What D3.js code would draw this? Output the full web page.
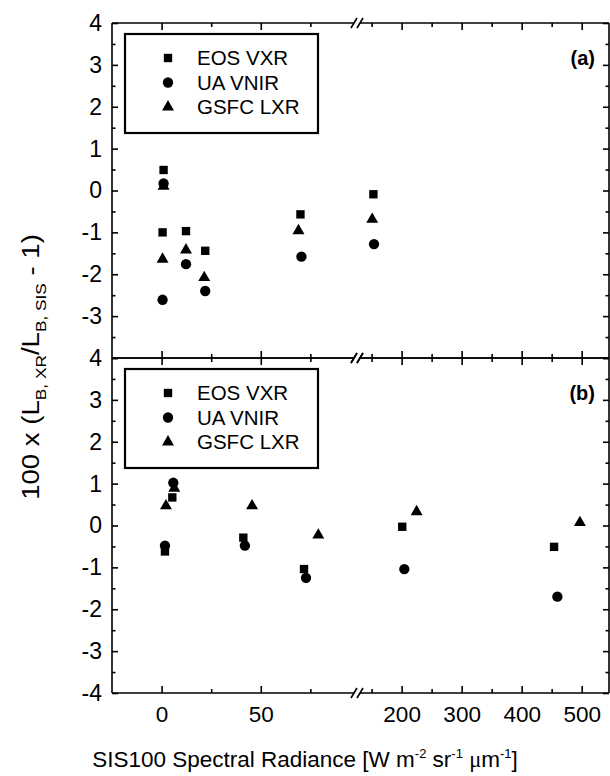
<!DOCTYPE html>
<html>
<head>
<meta charset="utf-8">
<script src="https://cdn.jsdelivr.net/npm/d3@7"></script>
<style>
  html, body { margin: 0; padding: 0; background: #fff; }
  svg { display: block; }
  text { font-family: "Liberation Sans", Arial, sans-serif; fill: #000; }
</style>
</head>
<body>
<svg id="chart" width="610" height="776"></svg>
<script>
// ---------------- data ----------------
const seriesNames = ["EOS VXR", "UA VNIR", "GSFC LXR"];
const seriesSymbols = ["square", "circle", "triangle"];
const panelLabels = ["(a)", "(b)"];

// panel (a)
const aEosX  = [1, 0.5, 12.3, 22, 70, 153];
const aEosY  = [0.49, -1.0, -0.97, -1.44, -0.57, -0.09];
const aUaX   = [1, 0.5, 12.3, 22, 70.5, 154];
const aUaY   = [0.17, -2.61, -1.76, -2.40, -1.58, -1.28];
const aGsfcX = [1, 0.5, 12.3, 21.5, 69, 151];
const aGsfcY = [0.10, -1.64, -1.42, -2.08, -0.96, -0.69];

// panel (b)
const bEosX  = [1.7, 5.4, 41.2, 71.8, 201, 454];
const bEosY  = [-0.62, 0.67, -0.29, -1.04, -0.03, -0.51];
const bUaX   = [1.7, 5.9, 42, 72.8, 204.5, 459.5];
const bUaY   = [-0.48, 1.02, -0.48, -1.25, -1.04, -1.70];
const bGsfcX = [2.2, 6.4, 45.6, 79, 225, 497];
const bGsfcY = [0.47, 0.89, 0.47, -0.23, 0.33, 0.07];

// axis ticks
const yMajor = [-4, -3, -2, -1, 0, 1, 2, 3, 4];
const yMinor = [-3.5, -2.5, -1.5, -0.5, 0.5, 1.5, 2.5, 3.5];
const yLabelsTop = ["", "-3", "-2", "-1", "0", "1", "2", "3", "4"];
const yLabelsBottom = ["-4", "-3", "-2", "-1", "0", "1", "2", "3", "4"];
const xLeftMajor = [0, 50];
const xLeftMinor = [25, 75];
const xRightMajor = [200, 300, 400, 500];
const xRightMinor = [150, 250, 350, 450];

const panels = [
  { label: panelLabels[0], series: [
      { x: aEosX, y: aEosY }, { x: aUaX, y: aUaY }, { x: aGsfcX, y: aGsfcY } ],
    yLabels: yLabelsTop, showX: false },
  { label: panelLabels[1], series: [
      { x: bEosX, y: bEosY }, { x: bUaX, y: bUaY }, { x: bGsfcX, y: bGsfcY } ],
    yLabels: yLabelsBottom, showX: true }
];

// ---------------- layout ----------------
const svg = d3.select("#chart");
const L = 112, R = 609;
const breakA = 354, breakB = 360;
const panelTops = [23, 358];
const panelH = 335;

const xL = d3.scaleLinear().domain([-25, 98]).range([L, 356]);
const xR = d3.scaleLinear().domain([134, 545.5]).range([362, R]);
const xPos = v => (v < 120 ? xL(v) : xR(v));

const symGen = {
  square: d3.symbol().type(d3.symbolSquare).size(70),
  circle: d3.symbol().type(d3.symbolCircle).size(84),
  triangle: d3.symbol().type(d3.symbolTriangle).size(62)
};

const LW = 1.6;

function styleAxis(fs) {
  return g => {
    g.select(".domain").remove();
    g.selectAll(".tick line").attr("stroke", "#000").attr("stroke-width", LW);
    g.selectAll(".tick text").attr("font-size", fs)
      .attr("font-family", '"Liberation Sans", Arial, sans-serif').attr("fill", "#000");
  };
}

panels.forEach((p, pi) => {
  const top = panelTops[pi];
  const y = d3.scaleLinear().domain([-4, 4]).range([top + panelH, top]);
  const g = svg.append("g");

  // left axis major with labels
  g.append("g").attr("transform", `translate(${L},0)`)
    .call(d3.axisLeft(y).tickValues(yMajor).tickSize(-6).tickPadding(10)
      .tickFormat((d, i) => p.yLabels[i]))
    .call(styleAxis(23));
  g.append("g").attr("transform", `translate(${L},0)`)
    .call(d3.axisLeft(y).tickValues(yMinor).tickSize(-3.5).tickFormat(""))
    .call(styleAxis(23));
  // right axis
  g.append("g").attr("transform", `translate(${R},0)`)
    .call(d3.axisRight(y).tickValues(yMajor).tickSize(-6).tickFormat(""))
    .call(styleAxis(23));
  g.append("g").attr("transform", `translate(${R},0)`)
    .call(d3.axisRight(y).tickValues(yMinor).tickSize(-3.5).tickFormat(""))
    .call(styleAxis(23));

  [[xL, xLeftMajor, xLeftMinor], [xR, xRightMajor, xRightMinor]].forEach(([sc, maj, mn]) => {
    // top axis (ticks downward)
    g.append("g").attr("transform", `translate(0,${top})`)
      .call(d3.axisTop(sc).tickValues(maj).tickSize(-7).tickFormat(""))
      .call(styleAxis(22));
    g.append("g").attr("transform", `translate(0,${top})`)
      .call(d3.axisTop(sc).tickValues(mn).tickSize(-4).tickFormat(""))
      .call(styleAxis(22));
    // bottom axis (ticks upward)
    g.append("g").attr("transform", `translate(0,${top + panelH})`)
      .call(d3.axisBottom(sc).tickValues(maj).tickSize(-7).tickPadding(13)
        .tickFormat(p.showX ? d3.format("d") : ""))
      .call(styleAxis(22.5));
    g.append("g").attr("transform", `translate(0,${top + panelH})`)
      .call(d3.axisBottom(sc).tickValues(mn).tickSize(-4).tickFormat(""))
      .call(styleAxis(22));
  });

  // frame lines
  const ln = (x1, y1, x2, y2) => g.append("line").attr("x1", x1).attr("y1", y1)
    .attr("x2", x2).attr("y2", y2).attr("stroke", "#000").attr("stroke-width", LW);
  ln(L, top, L, top + panelH);
  ln(R, top, R, top + panelH);
  [top, top + panelH].forEach(yy => {
    ln(L, yy, breakA, yy);
    ln(breakB, yy, R, yy);
    // break marks //
    ln(breakA - 3, yy + 5, breakA + 3, yy - 5);
    ln(breakB - 3, yy + 5, breakB + 3, yy - 5);
  });

  // legend
  const lg = g.append("g");
  lg.append("rect").attr("x", 125).attr("y", top + 11).attr("width", 193).attr("height", 99)
    .attr("fill", "#fff").attr("stroke", "#000").attr("stroke-width", 2.2);
  seriesNames.forEach((name, i) => {
    const yy = top + 35 + i * 24.5;
    lg.append("path").attr("d", symGen[seriesSymbols[i]]())
      .attr("transform", `translate(168,${yy})`).attr("fill", "#000");
    lg.append("text").attr("x", 197).attr("y", yy).attr("dy", "0.36em")
      .attr("font-size", 20.5).text(name);
  });

  // panel label
  g.append("text").attr("x", 595).attr("y", top + 35).attr("dy", "0.36em")
    .attr("text-anchor", "end").attr("font-size", 20).attr("font-weight", "bold")
    .text(p.label);

  // data points
  p.series.forEach((s, si) => {
    g.append("g").selectAll("path").data(s.x.map((xv, k) => [xv, s.y[k]]))
      .join("path")
      .attr("d", symGen[seriesSymbols[si]]())
      .attr("transform", d => `translate(${xPos(d[0])},${y(d[1])})`)
      .attr("fill", "#000");
  });
});

// x axis title
const xt = svg.append("text").attr("x", 305).attr("y", 767)
  .attr("text-anchor", "middle").attr("font-size", 22.5);
xt.append("tspan").text("SIS100 Spectral Radiance [W m");
xt.append("tspan").attr("dy", -9).attr("font-size", 13).text("-2");
xt.append("tspan").attr("dy", 9).text(" sr");
xt.append("tspan").attr("dy", -9).attr("font-size", 13).text("-1");
xt.append("tspan").attr("dy", 9).text(" ");
xt.append("tspan").attr("font-family", '"Liberation Serif", serif').text("\u03BC");
xt.append("tspan").text("m");
xt.append("tspan").attr("dy", -9).attr("font-size", 13).text("-1");
xt.append("tspan").attr("dy", 9).text("]");

// y axis title
const yt = svg.append("text").attr("transform", "translate(39,367) rotate(-90) scale(1.15,1)")
  .attr("text-anchor", "middle").attr("font-size", 24);
yt.append("tspan").text("100 x (L");
yt.append("tspan").attr("dy", 7).attr("font-size", 15).text("B, XR");
yt.append("tspan").attr("dy", -7).text("/L");
yt.append("tspan").attr("dy", 7).attr("font-size", 15).text("B, SIS");
yt.append("tspan").attr("dy", -7).text(" - 1)");
</script>
</body>
</html>
